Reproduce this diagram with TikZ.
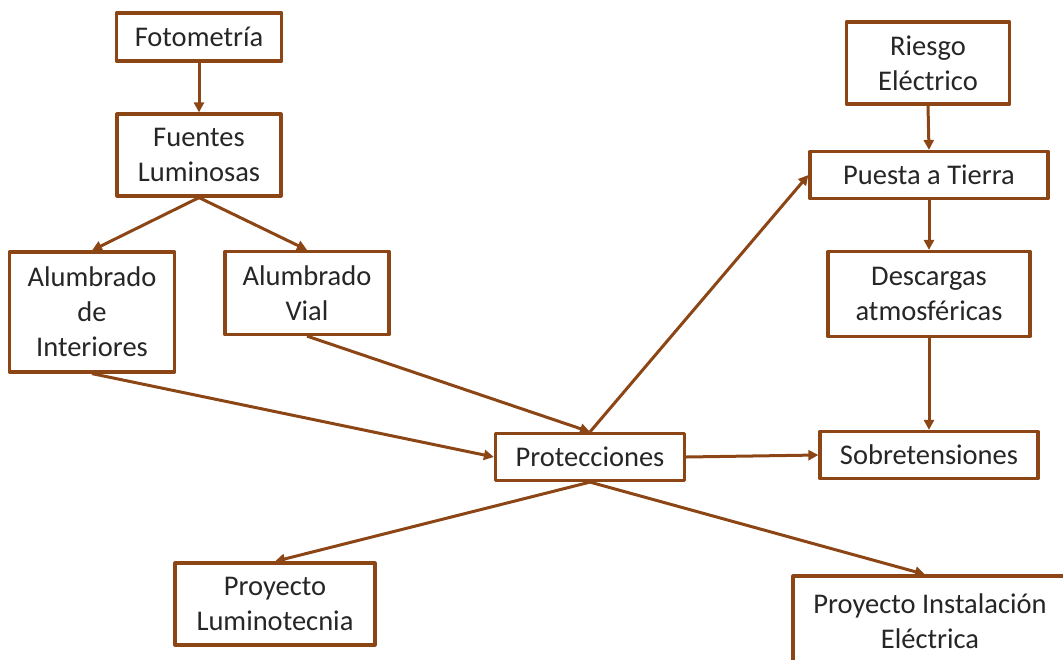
\documentclass[tikz,border=0pt]{standalone}
\usepackage{fontspec}
\setmainfont{Carlito}
\usetikzlibrary{arrows.meta}
\definecolor{marron}{RGB}{140,70,22}
\begin{document}
\begin{tikzpicture}[x=1pt,y=1pt,line join=round,
	caja/.style={draw=marron,line width=3.2pt,fill=white,align=center,inner sep=2pt,text=black!85,font=\fontsize{28.5}{35}\selectfont},
	flecha/.style={draw=marron,line width=3pt,-{Triangle[length=10pt,width=10pt]}}]
			\useasboundingbox (0,0) rectangle (1063,-659);
			% rama de luminotecnia
			\node[caja,minimum width=165pt,minimum height=48pt] (foto) at (199,-37) {Fotometría};
			\node[caja,minimum width=164pt,minimum height=82pt] (fuentes) at (199,-155) {Fuentes\\Luminosas};
			\node[caja,minimum width=165pt,minimum height=120pt] (interiores) at (92,-312) {Alumbrado\\de\\Interiores};
			\node[caja,minimum width=164pt,minimum height=83pt] (vial) at (307,-293) {Alumbrado\\Vial};
			% nodo central
			\node[caja,minimum width=189pt,minimum height=47pt] (prot) at (590,-457) {Protecciones};
			% rama electrica
			\node[caja,minimum width=163pt,minimum height=82pt] (riesgo) at (928,-63) {Riesgo\\Eléctrico};
			\node[caja,minimum width=238pt,minimum height=47pt] (tierra) at (929,-175) {Puesta a Tierra};
			\node[caja,minimum width=202pt,minimum height=85pt] (descargas) at (929,-294) {Descargas\\atmosféricas};
			\node[caja,minimum width=218pt,minimum height=47pt] (sobre) at (929,-455) {Sobretensiones};
			% proyectos
			\node[caja,minimum width=200pt,minimum height=82pt] (pluminot) at (275,-604) {Proyecto\\Luminotecnia};
			\node[caja,minimum width=274pt,minimum height=90pt] (pinst) at (930,-621) {Proyecto Instalación\\Eléctrica};
			% conexiones
			\draw[flecha] (foto.south) -- (fuentes.north);
			\draw[flecha] (fuentes.south) -- (interiores.north);
			\draw[flecha] (fuentes.south) -- (vial.north);
			\draw[flecha] (interiores.south) -- (prot.west);
			\draw[flecha] (vial.south) -- (prot.north);
			\draw[flecha] (prot.north) -- (tierra.west);
			\draw[flecha] (riesgo.south) -- (tierra.north);
			\draw[flecha] (tierra.south) -- (descargas.north);
			\draw[flecha] (descargas.south) -- (sobre.north);
			\draw[flecha] (prot.east) -- (sobre.west);
			\draw[flecha] (prot.south) -- (pluminot.north);
			\draw[flecha] (prot.south) -- ([xshift=-5pt]pinst.north);
		\end{tikzpicture}
\end{document}
